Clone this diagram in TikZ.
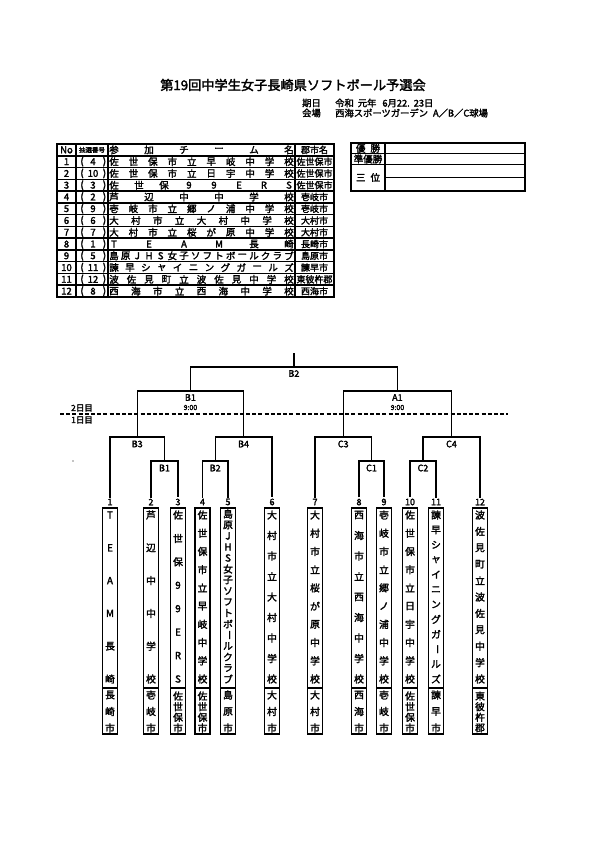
\documentclass[tikz,border=0pt]{standalone}
\usepackage{fontspec}
\usepackage{graphicx}
\usetikzlibrary{calc}
\setmainfont{Noto Sans CJK JP}[FakeBold=2.2]
\newcommand\tatebar{\rotatebox[origin=c]{-90}{ー}}
\newcommand\spreadv[6]{\foreach \ch [count=\i] in {#6}{\node[vglyph] (#1-\i) at ({#2},{#3+(\i-1)*(#4-#3)/(#5-1)}) {\ch};}}
\newcommand\spreadh[6]{\foreach \ch [count=\i] in {#6}{\node[glyph] (#1-\i) at ({#3+(\i-1)*(#4-#3)/(#5-1)},{#2}) {\ch};}}
\newcommand\rowy[1]{144+(#1+0.5)*11.77}
\begin{document}
\begin{tikzpicture}[x=1pt,y=-1pt,
  glyph/.style={inner sep=0pt,font=\fontsize{9.5}{9.5}\selectfont},
  cglyph/.style={inner sep=0pt,font=\fontsize{9}{9}\selectfont},
  vglyph/.style={inner sep=0pt,font=\fontsize{9.8}{9.8}\selectfont},
  tline/.style={line width=1.5pt},
  bline/.style={line width=1.1pt},
  bthick/.style={line width=1.7pt},
  boxline/.style={line width=1.8pt},
  numlab/.style={inner sep=1pt,font=\fontsize{9}{9}\selectfont},
  mlab/.style={inner sep=0pt,font=\fontsize{9}{9}\selectfont},
  tlab/.style={inner sep=0pt,font=\fontsize{6.5}{6.5}\selectfont}]
\fill[white] (0,0) rectangle (595,842);
\useasboundingbox (0,0) rectangle (595,842);

% title
\node[inner sep=0pt,font=\fontsize{13.2}{13.2}\selectfont] (title) at (293,85) {第19回中学生女子長崎県ソフトボール予選会};
\node[inner sep=0pt,anchor=west,font=\fontsize{9.3}{9.3}\selectfont] (dlab) at (302,103) {期日};
\node[inner sep=0pt,anchor=west,font=\fontsize{9.3}{9.3}\selectfont] (date) at (335,103) {令和\hspace{4pt}元年\hspace{6pt}6月22.\hspace{4pt}23日};
\node[inner sep=0pt,anchor=west,font=\fontsize{9.3}{9.3}\selectfont] (vlab) at (302,113) {会場};
\node[inner sep=0pt,anchor=west,font=\fontsize{9.3}{9.3}\selectfont] (venue) at (335,113) {西海スポーツガーデン\hspace{5pt}A／B／C球場};

% table
\draw[tline] (57,144) rectangle (334,297);
\foreach \k in {1,...,12}{\draw[tline] (57,{144+\k*11.77}) -- (334,{144+\k*11.77});}
\foreach \xx in {76,108,295}{\draw[tline] (\xx,144) -- (\xx,297);}
\node[glyph] (hno) at (66.5,{\rowy{0}}) {No};
\node[tlab] (hlot) at (92,{\rowy{0}}) {抽選番号};
\spreadh{hteam}{\rowy{0}}{114}{289}{6}{参,加,チ,ー,ム,名}
\node[cglyph] (hcity) at (314.5,{\rowy{0}}) {郡市名};
\foreach \k/\l in {1/4,2/10,3/3,4/2,5/9,6/6,7/7,8/1,9/5,10/11,11/12,12/8}{
  \node[glyph] (no\k) at (66.5,{\rowy{\k}}) {\k};
  \node[glyph] (lpa\k) at (82,{\rowy{\k}}) {(};
  \node[glyph] (lot\k) at (93,{\rowy{\k}}) {\l};
  \node[glyph] (lpb\k) at (104.5,{\rowy{\k}}) {)};
}
\spreadh{r1}{\rowy{1}}{114}{289}{10}{佐,世,保,市,立,早,岐,中,学,校}
\spreadh{r2}{\rowy{2}}{114}{289}{10}{佐,世,保,市,立,日,宇,中,学,校}
\spreadh{r3}{\rowy{3}}{114}{289}{8}{佐,世,保,9,9,E,R,S}
\spreadh{r4}{\rowy{4}}{114}{289}{6}{芦,辺,中,中,学,校}
\spreadh{r5}{\rowy{5}}{114}{289}{10}{壱,岐,市,立,郷,ノ,浦,中,学,校}
\spreadh{r6}{\rowy{6}}{114}{289}{9}{大,村,市,立,大,村,中,学,校}
\spreadh{r7}{\rowy{7}}{114}{289}{10}{大,村,市,立,桜,が,原,中,学,校}
\spreadh{r8}{\rowy{8}}{114}{289}{6}{T,E,A,M,長,崎}
\spreadh{r9}{\rowy{9}}{114}{289}{16}{島,原,J,H,S,女,子,ソ,フ,ト,ボ,ー,ル,ク,ラ,ブ}
\spreadh{r10}{\rowy{10}}{114}{289}{12}{諫,早,シ,ャ,イ,ニ,ン,グ,ガ,ー,ル,ズ}
\spreadh{r11}{\rowy{11}}{114}{289}{11}{波,佐,見,町,立,波,佐,見,中,学,校}
\spreadh{r12}{\rowy{12}}{114}{289}{9}{西,海,市,立,西,海,中,学,校}
\foreach \k/\c in {1/佐世保市,2/佐世保市,3/佐世保市,4/壱岐市,5/壱岐市,6/大村市,7/大村市,8/長崎市,9/島原市,10/諫早市,11/東彼杵郡,12/西海市}{
  \node[cglyph] (city\k) at (314.5,{\rowy{\k}}) {\c};
}

% results box
\draw[tline] (351,143) rectangle (525,191);
\draw[tline] (385,143) -- (385,191);
\draw[tline] (351,153.5) -- (525,153.5);
\draw[tline] (351,164.5) -- (525,164.5);
\draw[tline] (385,177.5) -- (525,177.5);
\node[glyph] (win) at (368,148.3) {優\hspace{5pt}勝};
\node[glyph] (second) at (368,159) {準優勝};
\node[glyph] (third) at (368,177.5) {三\hspace{5pt}位};

% day labels and dashed line
\node[inner sep=0pt,font=\fontsize{8.5}{8.5}\selectfont] (day2) at (82,408) {2日目};
\node[inner sep=0pt,font=\fontsize{8.5}{8.5}\selectfont] (day1) at (82,420) {1日目};
\coordinate (dl) at (60,414);
\coordinate (dr) at (508,414);
\draw[line width=1.2pt,dash pattern=on 4pt off 2.2pt] (dl) -- (dr);
\fill (73,461) circle (0.6);

% team numbers
\foreach \k/\xx in {1/110,2/151,3/178,4/202.5,5/228,6/272,7/315,8/359,9/384,10/410,11/436,12/480}{
  \node[numlab] (n\k) at (\xx,502) {\k};
  \draw[boxline] (\xx-7.5,508) rectangle (\xx+7.5,734);
  \draw[boxline] (\xx-7.5,688) -- (\xx+7.5,688);
}

% match coordinates
\coordinate (mB1s) at (164.5,461);
\coordinate (mB2s) at (215.25,461);
\coordinate (mC1s) at (371.5,461);
\coordinate (mC2s) at (423,461);
\coordinate (mB3) at (137.25,437);
\coordinate (mB4) at (243.6,437);
\coordinate (mC3) at (343.25,437);
\coordinate (mC4) at (451.5,437);
\coordinate (mSB1) at (190.4,391);
\coordinate (mA1) at (397.4,391);
\coordinate (mF) at (293.9,367);
\coordinate (mTop) at (293.9,353);

% bracket lines
\draw[bthick] (n2.north) |- (mB1s) -| (n3.north);
\draw[bthick] (n4.north) |- (mB2s) -| (n5.north);
\draw[bthick] (n8.north) |- (mC1s) -| (n9.north);
\draw[bthick] (n10.north) |- (mC2s) -| (n11.north);
\draw[bline] (n1.north) |- (mB3) -| (mB1s);
\draw[bline] (mB2s) |- (mB4) -| (n6.north);
\draw[bthick] (n7.north) |- (mC3);
\draw[bline] (mC3) -| (mC1s);
\draw[bline] (mC2s) |- (mC4);
\draw[bthick] (mC4) -| (n12.north);
\draw[bline] (mB3) |- (mSB1) -| (mB4);
\draw[bline] (mC3) |- (mA1) -| (mC4);
\draw[bthick] (mSB1) |- (mF) -| (mA1);
\draw[bthick] (mF) -- (mTop);

% match labels
\node[mlab] (lB1s) at ($(mB1s)+(0,7)$) {B1};
\node[mlab] (lB2s) at ($(mB2s)+(0,7)$) {B2};
\node[mlab] (lC1s) at ($(mC1s)+(0,7)$) {C1};
\node[mlab] (lC2s) at ($(mC2s)+(0,7)$) {C2};
\node[mlab] (lB3) at ($(mB3)+(0,7)$) {B3};
\node[mlab] (lB4) at ($(mB4)+(0,7)$) {B4};
\node[mlab] (lC3) at ($(mC3)+(0,7)$) {C3};
\node[mlab] (lC4) at ($(mC4)+(0,7)$) {C4};
\node[mlab] (lSB1) at ($(mSB1)+(0,6.5)$) {B1};
\node[mlab,font=\fontsize{7}{7}\selectfont] (tSB1) at ($(mSB1)+(0,16.5)$) {9:00};
\node[mlab] (lA1) at ($(mA1)+(0,6.5)$) {A1};
\node[mlab,font=\fontsize{7}{7}\selectfont] (tA1) at ($(mA1)+(0,16.5)$) {9:00};
\node[mlab] (lF) at ($(mF)+(0,6.5)$) {B2};

% vertical team names (upper part)
\spreadv{t1}{110}{515}{679}{6}{T,E,A,M,長,崎}
\spreadv{t2}{151}{515}{679}{6}{芦,辺,中,中,学,校}
\spreadv{t3}{178}{515}{679}{8}{佐,世,保,9,9,E,R,S}
\spreadv{t4}{202.5}{515}{679}{10}{佐,世,保,市,立,早,岐,中,学,校}
\spreadv{t5}{228}{514}{679}{16}{島,原,J,H,S,女,子,ソ,フ,ト,ボ,\tatebar,ル,ク,ラ,ブ}
\spreadv{t6}{272}{515}{679}{9}{大,村,市,立,大,村,中,学,校}
\spreadv{t7}{315}{515}{679}{10}{大,村,市,立,桜,が,原,中,学,校}
\spreadv{t8}{359}{515}{679}{9}{西,海,市,立,西,海,中,学,校}
\spreadv{t9}{384}{515}{679}{10}{壱,岐,市,立,郷,ノ,浦,中,学,校}
\spreadv{t10}{410}{515}{679}{10}{佐,世,保,市,立,日,宇,中,学,校}
\spreadv{t11}{436}{515}{679}{12}{諫,早,シ,ャ,イ,ニ,ン,グ,ガ,\tatebar,ル,ズ}
\spreadv{t12}{480}{515}{679}{11}{波,佐,見,町,立,波,佐,見,中,学,校}

% vertical city names (lower part)
\spreadv{c1}{110}{695}{728}{3}{長,崎,市}
\spreadv{c2}{151}{695}{728}{3}{壱,岐,市}
\spreadv{c3}{178}{696}{728}{4}{佐,世,保,市}
\spreadv{c4}{202.5}{696}{728}{4}{佐,世,保,市}
\spreadv{c5}{228}{695}{728}{3}{島,原,市}
\spreadv{c6}{272}{695}{728}{3}{大,村,市}
\spreadv{c7}{315}{695}{728}{3}{大,村,市}
\spreadv{c8}{359}{695}{728}{3}{西,海,市}
\spreadv{c9}{384}{695}{728}{3}{壱,岐,市}
\spreadv{c10}{410}{696}{728}{4}{佐,世,保,市}
\spreadv{c11}{436}{695}{728}{3}{諫,早,市}
\spreadv{c12}{480}{696}{728}{4}{東,彼,杵,郡}
\end{tikzpicture}
\end{document}
